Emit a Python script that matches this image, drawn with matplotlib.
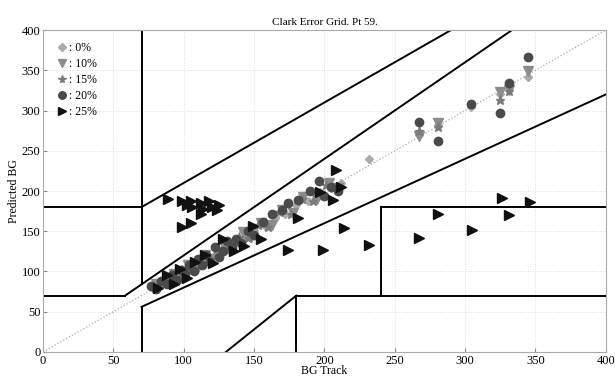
import matplotlib
matplotlib.use('Agg')
import matplotlib.pyplot as plt
import numpy as np

plt.rcParams['font.family'] = ['Liberation Serif', 'DejaVu Serif']

## data (BG track, predicted BG)
x_0 = [78, 85, 90, 95, 100, 104, 108, 112, 117, 122, 127, 132, 137, 143, 150, 158, 165, 172, 180, 188, 197, 205, 212, 232, 267, 281, 304, 325, 331, 345]
y_0 = [80, 86, 92, 96, 101, 105, 108, 113, 118, 121, 128, 131, 138, 142, 152, 157, 167, 171, 182, 187, 199, 204, 210, 240, 270, 282, 304, 320, 330, 342]

x_10 = [80, 88, 93, 98, 103, 110, 115, 120, 128, 135, 142, 148, 155, 163, 170, 178, 185, 195, 203, 210, 267, 281, 325, 331, 345]
y_10 = [84, 90, 97, 95, 108, 106, 121, 115, 134, 130, 149, 143, 160, 158, 176, 173, 192, 190, 210, 204, 268, 285, 323, 326, 349]

x_15 = [82, 87, 94, 99, 105, 111, 118, 124, 131, 139, 146, 153, 160, 168, 176, 184, 192, 201, 209, 267, 281, 325, 331]
y_15 = [83, 91, 93, 102, 104, 114, 117, 128, 127, 143, 141, 158, 155, 174, 172, 190, 188, 207, 204, 275, 279, 313, 324]

x_20 = [77, 80, 84, 88, 92, 95, 98, 101, 104, 107, 110, 113, 116, 119, 122, 125, 128, 131, 134, 137, 141, 146, 150, 156, 163, 170, 174, 181, 190, 196, 200, 205, 210, 267, 281, 304, 325, 331, 345]
y_20 = [82, 78, 88, 85, 95, 90, 102, 97, 108, 100, 116, 108, 120, 112, 130, 118, 125, 138, 130, 140, 135, 150, 145, 162, 172, 176, 185, 189, 200, 212, 194, 205, 200, 286, 262, 308, 297, 334, 367]

x_25 = [82, 88, 93, 97, 102, 108, 115, 121, 128, 136, 143, 149, 155, 181, 197, 206, 208, 212,
        89, 99, 102, 105, 106, 112, 114, 118, 120, 124, 125, 112, 99, 105,
        174, 199, 214, 232, 267, 281, 305, 326, 331, 346]
y_25 = [80, 95, 85, 103, 92, 112, 120, 110, 140, 125, 132, 156, 140, 166, 199, 189, 226, 205,
        190, 187, 183, 187, 180, 185, 178, 187, 180, 176, 183, 172, 155, 160,
        127, 127, 154, 133, 141, 172, 152, 191, 170, 186]

fig = plt.figure(figsize=(6.15, 3.76), dpi=100)
ax = fig.add_axes([0.070, 0.064, 0.915, 0.856])

## zone boundaries
ax.plot([0, 400], [0, 400], ':', color='#aaaaaa', lw=0.9)
zone = dict(color='black', lw=1.4)
ax.plot([0, 175/3], [70, 70], **zone)
ax.plot([175/3, 400/1.2], [70, 400], **zone)
ax.plot([70, 70], [84, 400], **zone)
ax.plot([0, 70], [180, 180], **zone)
ax.plot([70, 290], [180, 400], **zone)
ax.plot([70, 70], [0, 56], **zone)
ax.plot([70, 400], [56, 320], **zone)
ax.plot([180, 180], [0, 70], **zone)
ax.plot([180, 400], [70, 70], **zone)
ax.plot([240, 240], [70, 180], **zone)
ax.plot([240, 400], [180, 180], **zone)
ax.plot([130, 180], [0, 70], **zone)

ax.plot(x_0, y_0, 'D', color='#aaaaaa', ms=4.5, ls='none', label=': 0%')
ax.plot(x_10, y_10, 'v', color='#8c8c8c', ms=6.5, ls='none', label=': 10%')
ax.plot(x_15, y_15, '*', color='#7a7a7a', ms=6.5, ls='none', label=': 15%')
ax.plot(x_20, y_20, 'o', color='#4a4a4a', ms=6, ls='none', label=': 20%')
ax.plot(x_25, y_25, '>', color='#111111', ms=6.5, ls='none', label=': 25%')

ax.set_xlim(0, 400)
ax.set_ylim(0, 400)
ax.set_xticks(np.arange(0, 401, 50))
ax.set_yticks(np.arange(0, 401, 50))
ax.tick_params(direction='in', labelsize=9, color='#888888', length=3, pad=2)
ax.grid(True, ls=':', color='#dddddd', lw=0.7)
for s in ax.spines.values():
    s.set_color('#aaaaaa')
ax.set_title('Clark Error Grid. Pt 59.', fontsize=8, pad=4)
ax.set_xlabel('BG Track', fontsize=8.5, labelpad=-1)
ax.set_ylabel('Predicted BG', fontsize=8.5, labelpad=1)
ax.legend(loc='upper left', frameon=False, fontsize=8.5, handletextpad=0.0,
          handlelength=1.2, labelspacing=0.35, borderaxespad=0.6, numpoints=1,
          markerscale=0.9)

fig.savefig('out.png', dpi=100)
